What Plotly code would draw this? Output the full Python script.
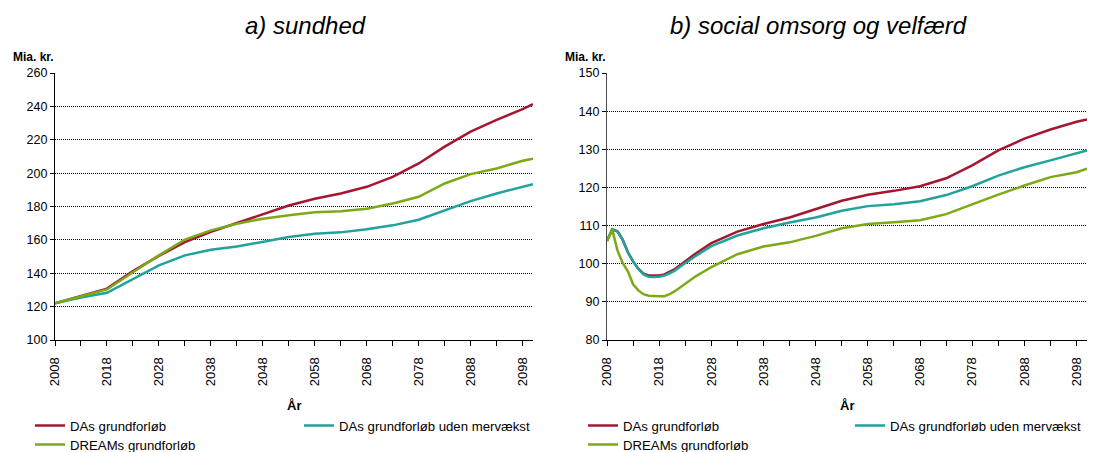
import plotly.graph_objects as go

W, H = 1095, 452
OFF = 8  # page body margin offset

# ---- data: a) sundhed ----
years_a = [2008, 2013, 2018, 2023, 2028, 2033, 2038, 2043, 2048, 2053, 2058,
           2063, 2068, 2073, 2078, 2083, 2088, 2093, 2098, 2100]
da_a = [122, 126.5, 130.8, 141.3, 150.4, 158.7, 164.8, 170.1, 175.5, 180.6, 184.6,
        187.8, 191.8, 197.8, 205.8, 215.9, 224.9, 231.9, 238.3, 241.3]
da_uden_a = [122, 125.5, 128.3, 136.6, 144.7, 150.7, 154.1, 156.0, 158.7, 161.7, 163.7,
             164.5, 166.3, 168.7, 172.1, 177.8, 183.2, 187.8, 191.8, 193.4]
dream_a = [122, 126.0, 130.3, 140.6, 150.7, 160.2, 165.7, 169.7, 172.7, 174.7, 176.5,
           177.1, 178.7, 181.8, 185.8, 193.8, 199.4, 202.8, 207.4, 208.6]

# ---- data: b) social omsorg og velfærd ----
years_b = [2008, 2009, 2010, 2011, 2012, 2013, 2014, 2015, 2016, 2017, 2018,
           2019, 2020, 2021, 2022, 2023, 2024, 2025, 2026, 2027, 2028,
           2033, 2038, 2043, 2048, 2053, 2058, 2063, 2068, 2073, 2078,
           2083, 2088, 2093, 2098, 2100]
da_b = [106, 109, 108.5, 106.3, 103, 100.6, 98.7, 97.4, 96.9, 96.9, 96.9,
        97.2, 97.8, 98.6, 99.6, 100.7, 101.7, 102.7, 103.6, 104.5, 105.4,
        108.4, 110.4, 112.1, 114.2, 116.5, 118.1, 119.1, 120.3, 122.4, 125.8,
        129.7, 132.8, 135.2, 137.2, 137.8]
da_uden_b = [106, 109, 108.5, 106.3, 103, 100.6, 98.6, 97.2, 96.6, 96.5, 96.6,
             96.9, 97.5, 98.2, 99.2, 100.2, 101.1, 102.0, 102.9, 103.7, 104.6,
             107.4, 109.3, 110.8, 112.1, 113.9, 115.1, 115.6, 116.4, 118.0, 120.3,
             123.1, 125.3, 127.1, 128.9, 129.7]
dream_b = [105.9, 109, 103.5, 100.2, 98, 94.6, 93.0, 92.0, 91.6, 91.5, 91.5,
           91.5, 92.0, 92.8, 93.8, 94.7, 95.7, 96.7, 97.5, 98.4, 99.1,
           102.5, 104.5, 105.6, 107.3, 109.3, 110.4, 110.9, 111.4, 113.0, 115.6,
           118.1, 120.5, 122.7, 124.0, 124.9]

series_names = ["DAs grundforløb", "DAs grundforløb uden mervækst", "DREAMs grundforløb"]
titles = ["a) sundhed", "b) social omsorg og velfærd"]
tick_years = list(range(2008, 2100, 5))
tick_text = [str(y) if (y - 2008) % 10 == 0 else "" for y in tick_years]

colors = ["#A5172F", "#21A39B", "#7BAA16"]
FONT = "Liberation Sans, Arial, sans-serif"


def px(x):
    return (x - OFF) / W


def py(y):
    return 1 - (y - OFF) / H


fig = go.Figure()

panels = [
    (years_a, [da_a, da_uden_a, dream_a], "x", "y", ["legend", "legend2", "legend3"]),
    (years_b, [da_b, da_uden_b, dream_b], "x2", "y2", ["legend4", "legend5", "legend6"]),
]
for yrs, vals, xa, ya, legs in panels:
    for name, v, c, lg in zip(series_names, vals, colors, legs):
        fig.add_trace(go.Scatter(x=yrs, y=v, name=name, mode="lines",
                                 line=dict(color=c, width=2.5), showlegend=True,
                                 xaxis=xa, yaxis=ya, legend=lg))

ydom = [py(340), py(73)]
xaxis_common = dict(range=[2008, 2100], tickvals=tick_years, ticktext=tick_text,
                    tickangle=-90, ticks="outside", ticklen=5, tickcolor="black",
                    showline=True, linecolor="black", linewidth=1.3, showgrid=False,
                    zeroline=False, ticklabelstandoff=6,
                    tickfont=dict(family=FONT, size=13, color="black"))
yaxis_common = dict(ticks="outside", ticklen=4, tickcolor="black",
                    showline=True, linewidth=1.3, showgrid=True,
                    gridcolor="black", griddash="1px,1px", gridwidth=1, zeroline=False,
                    tickfont=dict(family=FONT, size=12.5, color="black"))

fig.update_layout(
    width=W, height=H, autosize=False, showlegend=True,
    margin=dict(l=0, r=0, t=0, b=0, autoexpand=False),
    paper_bgcolor="white", plot_bgcolor="white",
    font=dict(family=FONT, color="black"),
    xaxis=dict(domain=[px(55), px(533)], anchor="y", **xaxis_common),
    xaxis2=dict(domain=[px(607), px(1087)], anchor="y2", **xaxis_common),
    yaxis=dict(domain=ydom, anchor="x", range=[100, 260], dtick=20,
               linecolor="black", **yaxis_common),
    yaxis2=dict(domain=ydom, anchor="x2", range=[80, 150], dtick=10,
                linecolor="#4a4a4a", **yaxis_common),
)

leg_font = dict(family=FONT, size=13.2, color="black")
leg_pos = {
    "legend": (30, 426), "legend2": (299, 426), "legend3": (30, 445),
    "legend4": (583, 426), "legend5": (850, 426), "legend6": (583, 445),
}
for key, (lx, ly) in leg_pos.items():
    fig.update_layout({key: dict(x=px(lx), y=py(ly), xanchor="left", yanchor="middle",
                                 orientation="h", font=leg_font, visible=True,
                                 bgcolor="rgba(0,0,0,0)", borderwidth=0,
                                 itemwidth=30)})

annotations = [
    dict(text="<i>" + titles[0] + "</i>", x=px(306), y=py(26), font=dict(size=24)),
    dict(text="<i>" + titles[1] + "</i>", x=px(818), y=py(26), font=dict(size=24)),
    dict(text="<b>Mia. kr.</b>", x=px(11), y=py(57), xanchor="left", font=dict(size=12)),
    dict(text="<b>Mia. kr.</b>", x=px(563), y=py(57), xanchor="left", font=dict(size=12)),
    dict(text="<b>År</b>", x=px(294), y=py(405), font=dict(size=13)),
    dict(text="<b>År</b>", x=px(847), y=py(405), font=dict(size=13)),
]
for a in annotations:
    a.setdefault("xanchor", "center")
    fig.add_annotation(xref="paper", yref="paper", showarrow=False, yanchor="middle",
                       **{k: v for k, v in a.items()})

fig.write_html("out.html")
